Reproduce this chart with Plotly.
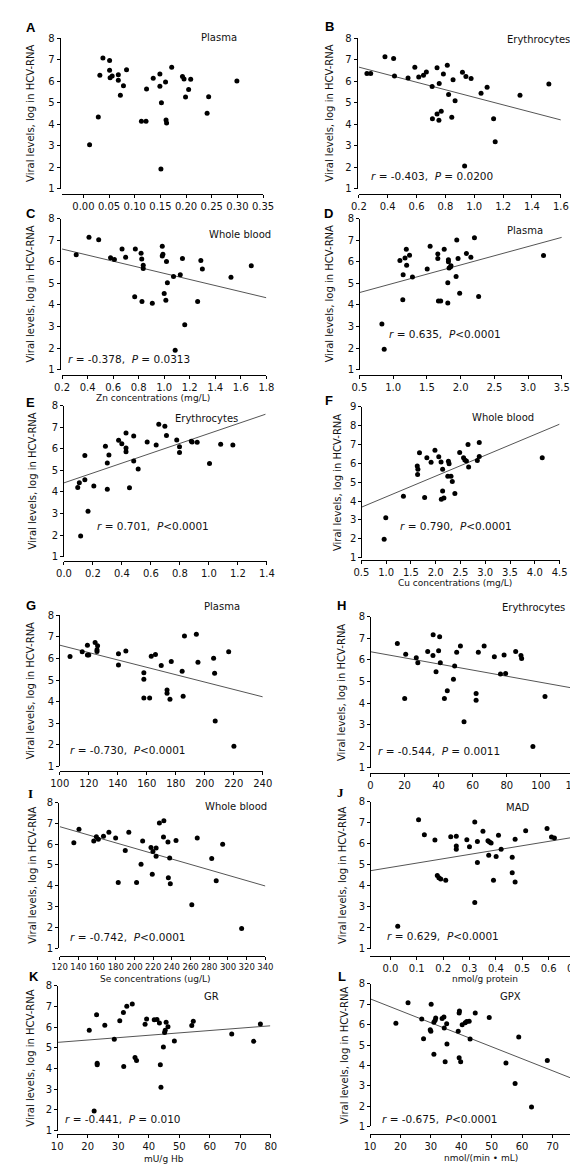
import plotly.graph_objects as go

W, H = 578, 1167
FONT = "DejaVu Sans"

# ---------------- data ----------------
A_x = [0.012,0.029,0.032,0.038,0.051,0.051,0.052,0.056,0.068,0.068,0.072,0.078,0.084,0.113,0.122,0.123,0.136,0.149,0.149,0.152,0.151,0.160,0.161,0.162,0.172,0.193,0.196,0.199,0.205,0.209,0.241,0.244,0.299]
A_y = [3.05,4.34,6.27,7.07,6.96,6.51,6.16,6.24,6.30,6.04,5.35,5.79,6.53,4.14,4.14,5.64,6.13,6.33,5.76,5.00,1.92,5.96,4.20,4.06,6.65,6.22,6.10,5.26,5.61,6.09,4.51,5.27,6.01]

B_x = [0.256,0.282,0.381,0.441,0.447,0.541,0.588,0.615,0.648,0.668,0.708,0.710,0.742,0.742,0.755,0.757,0.771,0.786,0.813,0.822,0.844,0.853,0.867,0.918,0.933,0.942,0.978,1.047,1.089,1.134,1.145,1.317,1.517]
B_y = [6.36,6.36,7.13,7.05,6.24,6.15,6.64,6.19,6.27,6.42,5.75,4.25,6.62,4.48,4.19,5.89,4.60,6.33,6.74,5.38,4.32,6.06,5.09,6.41,2.06,6.21,6.12,5.44,5.72,4.25,3.19,5.35,5.87]
B_fit_x = [0.2, 1.6]
B_fit_y = [6.65, 4.2]

C_x = [0.311,0.411,0.487,0.580,0.610,0.670,0.698,0.774,0.819,0.824,0.836,0.836,0.769,0.826,0.907,0.985,0.990,0.985,1.018,1.000,1.013,1.025,1.073,1.126,1.143,1.086,1.161,1.262,1.287,1.299,1.523,1.682]
C_y = [6.32,7.14,7.02,6.18,6.10,6.59,6.21,6.59,6.39,6.13,5.84,5.69,4.38,4.16,4.07,6.72,6.35,6.27,6.01,4.53,4.21,5.03,5.31,5.40,6.15,1.90,3.08,4.16,6.06,5.66,5.28,5.81]
C_fit_x = [0.2, 1.8]
C_fit_y = [6.59, 4.33]

D_x = [0.833,0.867,1.100,1.148,1.143,1.176,1.195,1.200,1.243,1.286,1.505,1.548,1.662,1.662,1.671,1.705,1.757,1.810,1.810,1.819,1.819,1.829,1.852,1.857,1.933,1.943,1.962,1.986,2.086,2.152,2.205,2.267,3.229]
D_y = [3.11,1.94,6.06,5.40,4.24,6.17,6.58,5.84,6.30,5.29,5.66,6.72,6.36,6.15,4.18,4.18,6.58,5.03,4.09,6.09,6.00,5.71,5.77,5.81,5.32,7.01,6.15,4.54,6.38,6.21,7.11,4.39,6.29]
D_fit_x = [0.5, 3.5]
D_fit_y = [4.57, 7.13]

E_x = [0.095,0.106,0.115,0.144,0.144,0.166,0.206,0.286,0.299,0.299,0.310,0.377,0.399,0.428,0.428,0.428,0.452,0.481,0.481,0.512,0.574,0.636,0.654,0.696,0.707,0.778,0.797,0.797,0.879,0.884,0.919,1.004,1.081,1.165]
E_y = [4.21,4.42,1.96,5.69,4.56,3.11,4.27,6.12,5.34,4.12,5.71,6.39,6.23,6.73,6.04,5.86,4.19,6.59,5.43,5.06,6.32,6.17,7.14,7.04,6.61,6.41,6.09,5.83,6.35,6.32,6.30,5.32,6.21,6.17]
E_fit_x = [0.0, 1.39]
E_fit_y = [4.42, 7.60]

F_x = [0.960,0.993,1.349,1.628,1.641,1.635,1.673,1.777,1.822,1.907,1.985,2.062,2.108,2.140,2.140,2.114,2.166,2.257,2.270,2.244,2.309,2.335,2.387,2.484,2.562,2.588,2.620,2.652,2.665,2.840,2.879,2.879,4.150]
F_y = [1.98,3.11,4.25,5.86,5.68,5.40,6.55,4.18,6.29,6.05,6.69,6.35,6.07,5.68,4.53,4.09,4.16,6.10,5.98,5.31,5.31,5.03,4.40,6.57,6.29,6.17,6.12,6.99,5.80,6.15,7.10,6.36,6.29]
F_fit_x = [0.5, 4.5]
F_fit_y = [3.67, 8.07]

G_x = [107.1,115.5,119.1,119.1,120.0,124.4,126.1,125.7,125.7,140.5,140.5,145.6,158.0,158.0,158.0,162.0,163.1,166.0,170.0,174.0,174.0,176.0,176.9,184.4,185.1,186.0,194.2,195.3,206.1,206.8,207.2,216.5,220.1]
G_y = [6.09,6.32,6.62,6.16,6.16,6.74,6.59,6.41,6.33,6.22,5.70,6.35,5.34,5.04,4.17,4.17,6.10,6.19,5.67,4.54,4.39,4.11,5.86,5.41,4.25,7.04,7.13,5.83,6.01,5.32,3.10,6.32,1.92]
G_fit_x = [100, 240]
G_fit_y = [6.62, 4.22]

H_x = [15.8,20.7,20.1,26.9,27.8,33.6,36.8,36.7,38.5,40.0,40.6,41.0,43.4,45.1,48.7,49.4,50.6,52.8,54.9,62.0,62.0,63.3,66.7,72.7,76.3,78.4,79.3,85.2,88.3,88.7,95.3,102.4]
H_y = [6.76,6.26,4.21,6.10,5.87,6.39,7.17,6.20,5.45,6.42,7.07,5.87,4.21,4.57,5.10,5.72,6.35,6.64,3.14,4.44,4.13,6.35,6.64,6.15,5.35,6.23,5.37,6.39,6.21,6.07,1.99,4.30]
H_fit_x = [0, 119.8]
H_fit_y = [6.38, 4.68]

I_x = [135.1,140.6,156.4,159.2,161.3,166.8,172.6,179.8,182.6,190.1,193.9,202.2,207.0,208.7,217.6,219.0,219.7,223.1,223.1,226.6,231.0,231.4,235.8,237.6,236.2,238.3,244.4,261.3,267.1,282.6,287.4,294.3,314.6]
I_y = [6.07,6.72,6.15,6.35,6.23,6.38,6.57,6.30,4.16,5.69,6.57,4.16,5.04,6.15,5.84,4.55,5.65,5.81,5.42,7.02,6.34,7.13,6.10,5.34,4.39,4.10,6.18,3.09,6.29,5.31,4.24,6.00,1.95]
I_fit_x = [120, 340]
I_fit_y = [6.84, 3.99]

J_x = [0.028,0.107,0.129,0.169,0.178,0.184,0.191,0.210,0.229,0.250,0.250,0.250,0.290,0.300,0.320,0.320,0.330,0.330,0.351,0.370,0.373,0.376,0.382,0.391,0.401,0.410,0.420,0.462,0.462,0.473,0.473,0.513,0.594,0.611,0.622]
J_y = [2.07,7.14,6.43,6.18,4.48,4.38,4.32,4.26,6.33,6.36,5.89,5.74,6.19,5.86,7.04,3.20,6.11,5.11,6.60,6.14,5.45,6.08,6.03,4.26,5.39,6.40,5.74,5.36,4.62,4.18,6.22,6.62,6.73,6.32,6.27]
J_fit_x = [-0.077, 0.70]
J_fit_y = [4.71, 6.32]

K_x = [20.5,22.1,22.9,23.1,23.1,25.6,28.7,30.5,31.7,31.8,32.8,34.6,35.5,36.0,38.8,39.3,41.8,42.7,43.5,43.8,44.0,44.8,45.2,45.4,45.7,46.3,48.4,54.1,54.6,67.2,74.4,76.6]
K_y = [5.85,1.95,6.60,4.26,4.18,6.09,5.41,6.30,6.70,4.10,7.01,7.11,4.53,4.39,6.14,6.39,6.35,6.36,6.20,4.18,3.10,5.04,5.74,5.85,6.23,6.01,5.33,6.08,6.28,5.66,5.31,6.15]
K_fit_x = [10, 79.8]
K_fit_y = [5.26, 6.06]

L_x = [18.5,22.5,27.0,27.6,29.8,30.0,30.1,31.0,31.0,31.4,31.6,33.7,34.3,34.4,34.7,35.2,35.3,39.0,39.3,39.4,39.3,39.8,40.3,41.3,41.8,42.6,42.9,44.6,49.2,54.7,57.7,58.9,63.1,68.3]
L_y = [6.07,7.08,6.28,5.31,5.75,5.67,7.00,4.55,6.12,6.22,6.33,6.30,6.38,5.83,4.18,6.04,5.05,5.67,6.57,6.67,4.37,4.18,5.99,6.09,6.15,6.17,5.29,6.57,6.35,4.11,3.11,5.39,1.95,4.24]
L_fit_x = [10, 77.4]
L_fit_y = [7.27, 3.30]

# tick labels
A_xticks = ["0.00","0.05","0.10","0.15","0.20","0.25","0.30","0.35"]
B_xticks = ["0.2","0.4","0.6","0.8","1.0","1.2","1.4","1.6"]
C_xticks = ["0.2","0.4","0.6","0.8","1.0","1.2","1.4","1.6","1.8"]
D_xticks = ["0.5","1.0","1.5","2.0","2.5","3.0","3.5"]
E_xticks = ["0.0","0.2","0.4","0.6","0.8","1.0","1.2","1.4"]
F_xticks = ["0.5","1.0","1.5","2.0","2.5","3.0","3.5","4.0","4.5"]
G_xticks = ["100","120","140","160","180","200","220","240"]
H_xticks = ["0","20","40","60","80","100","120"]
I_xticks = ["120","140","160","180","200","220","240","260","280","300","320","340"]
J_xticks = ["0.0","0.1","0.2","0.3","0.4","0.5","0.6","0.7"]
K_xticks = ["10","20","30","40","50","60","70","80"]
L_xticks = ["10","20","30","40","50","60","70"]
Y_ticks_8 = ["1","2","3","4","5","6","7","8"]
Y_ticks_9 = ["1","2","3","4","5","6","7","8","9"]

letters = ["A","B","C","D","E","F","G","H","I","J","K","L"]
sample_names = ["Plasma","Erythrocytes","Whole blood","Plasma","Erythrocytes","Whole blood",
                "Plasma","Erythrocytes","Whole blood","MAD","GR","GPX"]
stats_text = [None,
              "<i>r</i> = -0.403,  <i>P</i> = 0.0200",
              "<i>r</i> = -0.378,  <i>P</i> = 0.0313",
              "<i>r</i> = 0.635,  <i>P</i>&lt;0.0001",
              "<i>r</i> = 0.701,  <i>P</i>&lt;0.0001",
              "<i>r</i> = 0.790,  <i>P</i>&lt;0.0001",
              "<i>r</i> = -0.730,  <i>P</i>&lt;0.0001",
              "<i>r</i> = -0.544,  <i>P</i> = 0.0011",
              "<i>r</i> = -0.742,  <i>P</i>&lt;0.0001",
              "<i>r</i> = 0.629,  <i>P</i>&lt;0.0001",
              "<i>r</i> = -0.441,  <i>P</i> = 0.010",
              "<i>r</i> = -0.675,  <i>P</i>&lt;0.0001"]
y_title = "Viral levels, log in HCV-RNA"
x_titles = {"C": "Zn concentrations (mg/L)", "F": "Cu concentrations (mg/L)",
            "I": "Se concentrations (ug/L)", "J": "nmol/g protein",
            "K": "mU/g Hb", "L": "nmol/(min \u2022 mL)"}

series = {
    "A": (A_x, A_y, None, None, A_xticks, Y_ticks_8),
    "B": (B_x, B_y, B_fit_x, B_fit_y, B_xticks, Y_ticks_8),
    "C": (C_x, C_y, C_fit_x, C_fit_y, C_xticks, Y_ticks_8),
    "D": (D_x, D_y, D_fit_x, D_fit_y, D_xticks, Y_ticks_8),
    "E": (E_x, E_y, E_fit_x, E_fit_y, E_xticks, Y_ticks_8),
    "F": (F_x, F_y, F_fit_x, F_fit_y, F_xticks, Y_ticks_9),
    "G": (G_x, G_y, G_fit_x, G_fit_y, G_xticks, Y_ticks_8),
    "H": (H_x, H_y, H_fit_x, H_fit_y, H_xticks, Y_ticks_8),
    "I": (I_x, I_y, I_fit_x, I_fit_y, I_xticks, Y_ticks_8),
    "J": (J_x, J_y, J_fit_x, J_fit_y, J_xticks, Y_ticks_8),
    "K": (K_x, K_y, K_fit_x, K_fit_y, K_xticks, Y_ticks_8),
    "L": (L_x, L_y, L_fit_x, L_fit_y, L_xticks, Y_ticks_8),
}

# ---------------- layout geometry (pixels) ----------------
# y-axis x, plot top, plot bottom, x-axis y, x-axis left, x-axis right, x range
GEOM = {
    "A": (43.3, 24.3, 176.7, 181.7, 45.3, 254.3, [-0.0424, 0.35]),
    "B": (351.3, 24.3, 176.7, 181.7, 353.7, 563.3, [0.2, 1.6]),
    "C": (43.3, 206.7, 359.3, 365.0, 45.7, 257.7, [0.2, 1.8]),
    "D": (354.0, 206.7, 359.3, 365.0, 354.3, 564.3, [0.5, 3.5]),
    "E": (46.7, 395.7, 548.3, 553.0, 47.7, 258.3, [0.0, 1.4]),
    "F": (356.3, 396.7, 549.3, 551.5, 356.3, 562.0, [0.5, 4.5]),
    "G": (42.7, 607.7, 760.0, 765.0, 43.3, 254.0, [100, 240]),
    "H": (365.3, 609.0, 761.7, 766.7, 365.7, 578.0, [0, 120]),
    "I": (41.7, 796.7, 944.0, 951.7, 43.3, 256.7, [120, 340]),
    "J": (365.3, 796.0, 944.3, 951.7, 365.3, 578.0, [-0.077, 0.70]),
    "K": (40.7, 981.7, 1128.3, 1131.7, 40.7, 262.3, [10, 80]),
    "L": (365.3, 980.0, 1124.0, 1131.7, 365.3, 578.0, [10, 77.4]),
}
XTICK_SIZE = {"I": 8.5}
SERIF_LETTERS = {"I", "J"}
LETTER_POS = {"A": (13, 14), "B": (323, 13), "C": (13, 202), "D": (322, 202),
              "E": (13, 393), "F": (323, 391), "G": (13, 598), "H": (336, 598),
              "I": (13, 788), "J": (335, 787), "K": (17, 972), "L": (336, 972)}
NAME_POS = {"A": (208.7, 23.3), "B": (540, 26), "C": (230.8, 222.3), "D": (526, 218.3),
            "E": (196, 409), "F": (503, 408), "G": (212, 599), "H": (535, 600),
            "I": (226, 801), "J": (518, 802), "K": (201, 993), "L": (511, 993)}
STAT_POS = {"B": (364.7, 163.3), "C": (49.3, 348.3), "D": (383, 323.3), "E": (80, 517.3),
            "F": (394.7, 517.7), "G": (51.7, 743.3), "H": (371.3, 744.3), "I": (51.7, 932.3),
            "J": (381.3, 931.7), "K": (46.7, 1116.7), "L": (375.3, 1116.7)}
YTITLE_X = {"A": 13, "B": 323, "C": 13, "D": 323, "E": 15, "F": 331,
            "G": 13, "H": 336, "I": 15, "J": 336, "K": 13, "L": 338}
XTITLE_POS = {"C": (140, 388), "F": (453, 575), "I": (142, 975), "J": (485, 975),
              "K": (152, 1156.5), "L": (480, 1156)}


def fx(px):
    return px / W


def fy(py):
    return 1 - py / H


fig = go.Figure()
layout = dict(width=W, height=H, margin=dict(l=0, r=0, t=0, b=0),
              paper_bgcolor="white", plot_bgcolor="white", showlegend=False,
              font=dict(family=FONT, size=10, color="#111"), annotations=[])

axis_common = dict(showgrid=False, zeroline=False, showline=True, linecolor="black",
                   linewidth=1, ticks="outside", ticklen=3, tickwidth=1, tickcolor="black",
                   tickangle=0, fixedrange=True)

for i, key in enumerate(letters):
    n = i + 1
    xs, ys, fxs, fys, xticks, yticks = series[key]
    yax_x, top, bot, xax_y, xl, xr, xrange = GEOM[key]
    xname = "x" if n == 1 else f"x{n}"
    yname = "y" if n == 1 else f"y{n}"
    xkey = "xaxis" if n == 1 else f"xaxis{n}"
    ykey = "yaxis" if n == 1 else f"yaxis{n}"
    yvals = [float(t) for t in yticks]
    layout[xkey] = dict(axis_common, domain=[fx(xl), fx(xr)], range=xrange,
                        anchor="free", position=fy(xax_y),
                        tickfont=dict(family=FONT, size=XTICK_SIZE.get(key, 10), color="#111"),
                        tickmode="array", tickvals=[float(t) for t in xticks], ticktext=xticks)
    layout[ykey] = dict(axis_common, domain=[fy(bot), fy(top)], range=[yvals[0], yvals[-1]],
                        anchor="free", position=fx(yax_x),
                        tickfont=dict(family=FONT, size=10, color="#111"),
                        tickmode="array", tickvals=yvals, ticktext=yticks)
    if fxs is not None:
        fig.add_trace(go.Scatter(x=fxs, y=fys, mode="lines", xaxis=xname, yaxis=yname,
                                 line=dict(color="#555", width=1), hoverinfo="skip"))
    fig.add_trace(go.Scatter(x=xs, y=ys, mode="markers", xaxis=xname, yaxis=yname,
                             marker=dict(size=5, color="black")))

    ann = layout["annotations"]
    lx, ly = LETTER_POS[key]
    lfont = "Liberation Serif" if key in SERIF_LETTERS else "Liberation Sans"
    ann.append(dict(x=fx(lx), y=fy(ly), xref="paper", yref="paper", text=f"<b>{key}</b>",
                    showarrow=False, xanchor="center", yanchor="middle",
                    font=dict(family=lfont, size=13, color="black")))
    nx, ny = NAME_POS[key]
    ann.append(dict(x=fx(nx), y=fy(ny), xref="paper", yref="paper", text=sample_names[i],
                    showarrow=False, xanchor="center", yanchor="middle",
                    font=dict(family=FONT, size=10, color="#111")))
    if stats_text[i]:
        sx, sy = STAT_POS[key]
        ann.append(dict(x=fx(sx), y=fy(sy), xref="paper", yref="paper", text=stats_text[i],
                        showarrow=False, xanchor="left", yanchor="middle",
                        font=dict(family=FONT, size=10.5, color="#111")))
    ann.append(dict(x=fx(YTITLE_X[key]), y=fy((top + bot) / 2), xref="paper", yref="paper",
                    text=y_title, textangle=-90, showarrow=False, xanchor="center",
                    yanchor="middle", font=dict(family=FONT, size=10, color="#111")))
    if key in x_titles:
        tx, ty = XTITLE_POS[key]
        ann.append(dict(x=fx(tx), y=fy(ty), xref="paper", yref="paper", text=x_titles[key],
                        showarrow=False, xanchor="center", yanchor="middle",
                        font=dict(family=FONT, size=9, color="#111")))

fig.update_layout(**layout)
fig.write_html("out.html")
